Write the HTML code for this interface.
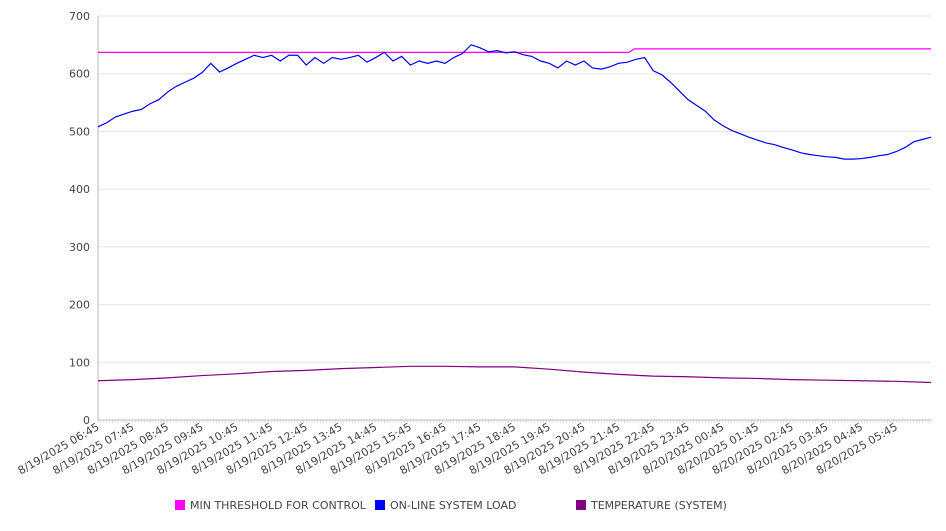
<!DOCTYPE html>
<html><head><meta charset="utf-8"><style>
body{margin:0;background:#fff;font-family:"Liberation Sans","DejaVu Sans",sans-serif}
svg text{font-family:"DejaVu Sans","Liberation Sans",sans-serif;fill:#444}
</style></head><body>
<svg id="chart" width="946" height="526" xmlns="http://www.w3.org/2000/svg"></svg>
<script>
const loadValues=[508,515,525,530,535,538,548,555,568,578,585,592,602,618,603,610,618,625,632,628,632,622,632,632,615,628,618,628,625,628,632,620,628,637,622,630,615,622,618,622,618,628,635,650,645,638,640,636,638,633,630,622,618,610,622,615,622,610,608,612,618,620,625,628,605,598,585,570,555,545,535,520,510,502,496,490,485,480,477,472,468,463,460,458,456,455,452,452,453,455,458,460,465,472,482,486,490];
const tempValues=[68,70,73,77,80,84,86,89,91,93,93,92,92,88,83,79,76,75,73,72,70,69,68,67,65];
const thrHours=[0,15.3,15.45,24];
const thrValues=[637,637,643,643];
const yTicks=[0,100,200,300,400,500,600,700];
const xLabels=["8/19/2025 06:45","8/19/2025 07:45","8/19/2025 08:45","8/19/2025 09:45","8/19/2025 10:45","8/19/2025 11:45","8/19/2025 12:45","8/19/2025 13:45","8/19/2025 14:45","8/19/2025 15:45","8/19/2025 16:45","8/19/2025 17:45","8/19/2025 18:45","8/19/2025 19:45","8/19/2025 20:45","8/19/2025 21:45","8/19/2025 22:45","8/19/2025 23:45","8/20/2025 00:45","8/20/2025 01:45","8/20/2025 02:45","8/20/2025 03:45","8/20/2025 04:45","8/20/2025 05:45"];
const legendNames=["MIN THRESHOLD FOR CONTROL","ON-LINE SYSTEM LOAD","TEMPERATURE (SYSTEM)"];
const legendColors=["#ff00ff","#0000ff","#800080"];
const svg=document.getElementById('chart');
const NS='http://www.w3.org/2000/svg';
const X0=98,X1=931,Y0=420,Y1=16;
const xh=h=>X0+h*(X1-X0)/24;
const y=v=>Y0-v*(Y0-Y1)/700;
function mk(t,a,p){const e=document.createElementNS(NS,t);for(const k in a)e.setAttribute(k,a[k]);(p||svg).appendChild(e);return e;}
yTicks.forEach(v=>{
 if(v>0){const g=mk('line',{x1:X0,x2:X1,y1:y(v),y2:y(v),stroke:'#e6e6e6'});
 
 }
 const t=mk('text',{x:90,y:y(v)+4,'text-anchor':'end','font-size':11});t.textContent=v;
 
 
});
const ax=mk('line',{x1:X0,x2:X0,y1:Y1,y2:Y0,stroke:'#bbb'});


const bx=mk('line',{x1:X0,x2:X1,y1:Y0,y2:Y0,stroke:'#bbb'});


for(let i=0;i<=96*3;i++){const xx=X0+i*(X1-X0)/288;const tk=mk('line',{x1:xx,x2:xx,y1:Y0,y2:Y0+3,stroke:'#ccc','stroke-width':0.6});
 
 }
xLabels.forEach((l,i)=>{const xx=xh(i)+2,yy=Y0+9;
 const t=mk('text',{x:xx,y:yy,'text-anchor':'end','font-size':11,transform:`rotate(-30 ${xx} ${yy})`});t.textContent=l;
 
 });
function line(pts,color,name){const p=mk('polyline',{points:pts.map(q=>q.join(',')).join(' '),fill:'none',stroke:color,'stroke-width':1.2});
 
 }
line(tempValues.map((v,i)=>[xh(i),y(v)]),'#800080','temperature-line');
line(thrValues.map((v,i)=>[xh(thrHours[i]),y(v)]),'#ff00ff','threshold-line');
line(loadValues.map((v,i)=>[xh(i/4),y(v)]),'#0000ff','system-load-line');
const lx=[175,375,576];
legendNames.forEach((n,i)=>{const g=mk('g',{});
 
 
 mk('rect',{x:lx[i],y:500,width:10,height:10,fill:legendColors[i]},g);
 const t=mk('text',{x:lx[i]+15,y:509,'font-size':11},g);t.textContent=n;});
</script>
</body></html>
